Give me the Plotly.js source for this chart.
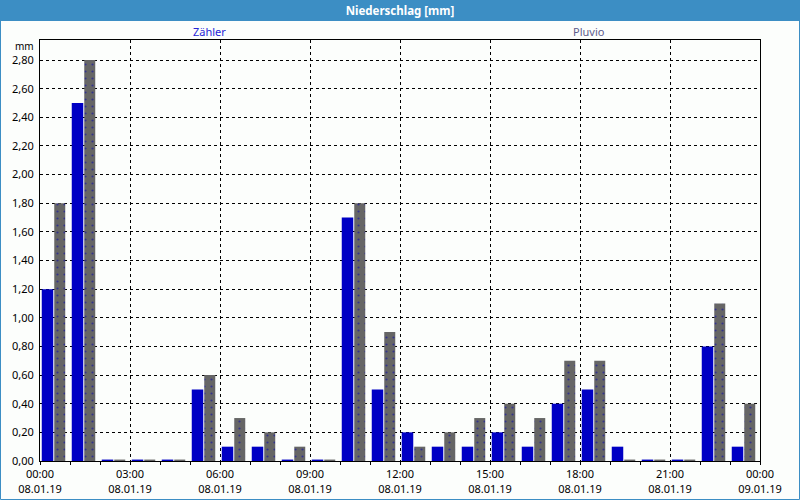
<!DOCTYPE html>
<html>
<head>
<meta charset="utf-8">
<script src="https://cdn.plot.ly/plotly-3.0.1.min.js"></script>
<style>
  html, body { margin: 0; padding: 0; background: #fcfefc; }
  #chart { width: 800px; height: 500px; }
</style>
</head>
<body>
<div id="chart"></div>
<script>
// ---- data ----
const hours = [
  '2019-01-08 00:00','2019-01-08 01:00','2019-01-08 02:00','2019-01-08 03:00',
  '2019-01-08 04:00','2019-01-08 05:00','2019-01-08 06:00','2019-01-08 07:00',
  '2019-01-08 08:00','2019-01-08 09:00','2019-01-08 10:00','2019-01-08 11:00',
  '2019-01-08 12:00','2019-01-08 13:00','2019-01-08 14:00','2019-01-08 15:00',
  '2019-01-08 16:00','2019-01-08 17:00','2019-01-08 18:00','2019-01-08 19:00',
  '2019-01-08 20:00','2019-01-08 21:00','2019-01-08 22:00','2019-01-08 23:00'
];
const zaehler = [1.20, 2.50, 0.01, 0.01, 0.01, 0.50, 0.10, 0.10, 0.01, 0.01, 1.70, 0.50,
                 0.20, 0.10, 0.10, 0.20, 0.10, 0.40, 0.50, 0.10, 0.01, 0.01, 0.80, 0.10];
const pluvio  = [1.80, 2.80, 0.01, 0.01, 0.01, 0.60, 0.30, 0.20, 0.10, 0.01, 1.80, 0.90,
                 0.10, 0.20, 0.30, 0.40, 0.30, 0.70, 0.70, 0.01, 0.01, 0.01, 1.10, 0.40];
const seriesNames = ['Zähler', 'Pluvio'];
const chartTitle = 'Niederschlag [mm]';
const unitLabel = 'mm';

const MIN = 60000;
const FONT = 'Noto Sans, DejaVu Sans, sans-serif';
const BAR_BLUE = '#0000c4';
const BAR_GRAY = '#666666';
const FRAME = '#3c8ec4';

const traces = [
  {
    type: 'bar', name: seriesNames[0], x: hours, y: zaehler,
    offset: 3.5 * MIN, width: 23 * MIN,
    marker: { color: BAR_BLUE, line: { width: 0 } },
    hoverinfo: 'skip', showlegend: false
  },
  {
    type: 'bar', name: seriesNames[1], x: hours, y: pluvio,
    offset: 28.5 * MIN, width: 22 * MIN,
    marker: {
      color: BAR_GRAY, line: { width: 0 },
      pattern: { shape: '.', fgcolor: '#34348a', bgcolor: BAR_GRAY, size: 7, solidity: 0.08, fillmode: 'replace' }
    },
    hoverinfo: 'skip', showlegend: false
  }
];

// pixel -> paper helpers (plot area: x 40..760, y 40..461)
const L = 40, R = 760, T = 40, B = 461;
const px = v => (v - L) / (R - L);
const py = v => (B - v) / (B - T);

const layout = {
  width: 800, height: 500,
  margin: { l: L, r: 800 - R, t: T, b: 500 - B, pad: 0 },
  paper_bgcolor: '#fcfefc',
  plot_bgcolor: '#fcfefc',
  separators: ',.',
  barmode: 'overlay',
  font: { family: FONT, size: 11, color: '#000000' },
  title: {
    text: '<b>' + chartTitle + '</b>',
    x: 0.5, xanchor: 'center', xref: 'container',
    y: 1 - 10.5 / 500, yanchor: 'middle', yref: 'container',
    font: { family: FONT, size: 11.5, color: '#ffffff' }
  },
  xaxis: {
    type: 'date',
    range: ['2019-01-08 00:00', '2019-01-09 00:00'],
    tick0: '2019-01-08 00:00',
    dtick: 3 * 3600000,
    tickformat: '%H:%M<br>%d.%m.%y',
    ticks: 'outside', ticklen: 3, tickcolor: '#000000', tickwidth: 1,
    minor: { dtick: 3600000, ticks: 'outside', ticklen: 3, tickcolor: '#000000', showgrid: false },
    showgrid: true, gridcolor: '#000000', gridwidth: 1, griddash: '3px,3px',
    showline: true, linecolor: '#000000', linewidth: 1, mirror: true,
    zeroline: false,
    tickfont: { family: FONT, size: 11, color: '#000000' },
    fixedrange: true
  },
  yaxis: {
    range: [0, 2.94],
    tick0: 0, dtick: 0.2,
    tickformat: '.2f',
    ticks: '',
    showgrid: true, gridcolor: '#000000', gridwidth: 1, griddash: '3px,3px',
    showline: true, linecolor: '#000000', linewidth: 1, mirror: true,
    zeroline: false,
    ticklabelstandoff: 3,
    tickfont: { family: FONT, size: 11, color: '#000000' },
    fixedrange: true
  },
  shapes: [
    // title bar
    { type: 'rect', xref: 'paper', yref: 'paper', layer: 'below',
      x0: px(0), x1: px(800), y0: py(21), y1: py(0),
      fillcolor: FRAME, line: { width: 0 } },
    // outer frame
    { type: 'rect', xref: 'paper', yref: 'paper', layer: 'below',
      x0: px(0.5), x1: px(799.5), y0: py(499.5), y1: py(0),
      fillcolor: 'rgba(0,0,0,0)', line: { color: FRAME, width: 1 } }
  ],
  annotations: [
    { text: seriesNames[0], xref: 'paper', yref: 'paper', x: px(209), y: py(32),
      xanchor: 'center', yanchor: 'middle', showarrow: false,
      font: { family: FONT, size: 11, color: '#2626d6' } },
    { text: seriesNames[1], xref: 'paper', yref: 'paper', x: px(589), y: py(32),
      xanchor: 'center', yanchor: 'middle', showarrow: false,
      font: { family: FONT, size: 11, color: '#5c5c8c' } },
    { text: unitLabel, xref: 'paper', yref: 'paper', x: px(36), y: py(46),
      xanchor: 'right', yanchor: 'middle', showarrow: false,
      font: { family: FONT, size: 10, color: '#000000' } }
  ]
};

Plotly.newPlot('chart', traces, layout, { staticPlot: true, displayModeBar: false });
</script>
</body>
</html>
